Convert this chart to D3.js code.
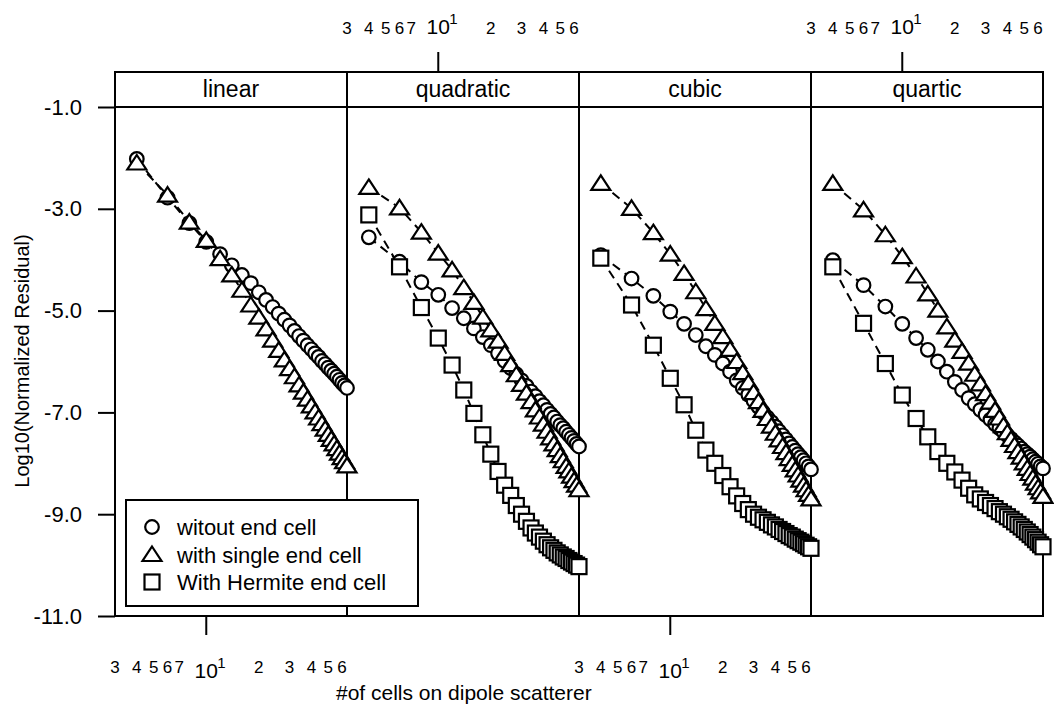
<!DOCTYPE html>
<html>
<head>
<meta charset="utf-8">
<script src="https://cdn.jsdelivr.net/npm/d3@7/dist/d3.min.js"></script>
<style>
  html, body { margin: 0; padding: 0; background: #fff; }
  svg { display: block; }
  text { font-family: "Liberation Sans", Arial, sans-serif; fill: #000; }
</style>
</head>
<body>
<svg id="chart" width="1054" height="710"></svg>
<script>
// ---------------- data ----------------
const panels = ["linear", "quadratic", "cubic", "quartic"];
const cells = [4,6,8,10,12,14,16,18,20,22,24,26,28,30,32,34,36,38,40,42,44,46,48,50,52,54,56,58,60,62,64];

const linearCircle   = [-2.02,-2.78,-3.28,-3.65,-3.89,-4.11,-4.30,-4.46,-4.64,-4.79,-4.93,-5.06,-5.18,-5.29,-5.40,-5.50,-5.59,-5.68,-5.76,-5.84,-5.91,-5.99,-6.05,-6.12,-6.18,-6.24,-6.30,-6.36,-6.42,-6.47,-6.52];
const linearTriangle = [-2.10,-2.73,-3.26,-3.62,-3.98,-4.30,-4.60,-4.89,-5.13,-5.36,-5.58,-5.78,-5.97,-6.14,-6.30,-6.46,-6.60,-6.74,-6.87,-6.99,-7.11,-7.22,-7.33,-7.43,-7.53,-7.62,-7.71,-7.80,-7.89,-7.97,-8.05];

const quadCircle   = [-3.56,-4.04,-4.44,-4.69,-4.95,-5.15,-5.35,-5.52,-5.68,-5.84,-5.99,-6.13,-6.25,-6.37,-6.48,-6.59,-6.68,-6.78,-6.86,-6.95,-7.03,-7.10,-7.18,-7.25,-7.31,-7.38,-7.44,-7.50,-7.56,-7.62,-7.67];
const quadTriangle = [-2.58,-2.98,-3.46,-3.87,-4.20,-4.55,-4.84,-5.13,-5.38,-5.60,-5.84,-6.06,-6.26,-6.45,-6.62,-6.79,-6.95,-7.09,-7.23,-7.37,-7.50,-7.62,-7.73,-7.85,-7.95,-8.06,-8.15,-8.25,-8.34,-8.43,-8.52];
const quadSquare   = [-3.12,-4.14,-4.94,-5.54,-6.07,-6.56,-7.02,-7.44,-7.82,-8.16,-8.43,-8.63,-8.83,-9.00,-9.14,-9.27,-9.37,-9.45,-9.53,-9.60,-9.66,-9.71,-9.76,-9.80,-9.84,-9.87,-9.91,-9.94,-9.97,-10.00,-10.03];

const cubicCircle   = [-3.91,-4.37,-4.71,-5.02,-5.26,-5.48,-5.70,-5.87,-6.04,-6.20,-6.37,-6.52,-6.65,-6.77,-6.89,-7.00,-7.10,-7.19,-7.28,-7.37,-7.45,-7.53,-7.61,-7.68,-7.75,-7.82,-7.88,-7.94,-8.00,-8.06,-8.12];
const cubicTriangle = [-2.50,-2.99,-3.47,-3.89,-4.27,-4.63,-4.96,-5.25,-5.51,-5.76,-6.00,-6.22,-6.42,-6.61,-6.79,-6.96,-7.12,-7.27,-7.41,-7.54,-7.67,-7.79,-7.91,-8.02,-8.13,-8.23,-8.33,-8.43,-8.52,-8.61,-8.70];
const cubicSquare   = [-3.97,-4.89,-5.68,-6.33,-6.85,-7.35,-7.74,-8.00,-8.24,-8.46,-8.64,-8.79,-8.91,-9.00,-9.06,-9.11,-9.16,-9.21,-9.25,-9.30,-9.34,-9.38,-9.42,-9.45,-9.49,-9.52,-9.55,-9.58,-9.61,-9.64,-9.67];

const quarticCircle   = [-4.01,-4.50,-4.92,-5.26,-5.54,-5.77,-6.00,-6.20,-6.40,-6.56,-6.72,-6.84,-6.95,-7.05,-7.14,-7.23,-7.31,-7.38,-7.45,-7.52,-7.59,-7.65,-7.71,-7.77,-7.82,-7.87,-7.92,-7.97,-8.01,-8.06,-8.10];
const quarticTriangle = [-2.50,-3.02,-3.51,-3.94,-4.32,-4.67,-4.99,-5.32,-5.58,-5.80,-6.03,-6.25,-6.44,-6.63,-6.80,-6.96,-7.11,-7.26,-7.40,-7.53,-7.65,-7.77,-7.88,-7.99,-8.10,-8.20,-8.29,-8.39,-8.48,-8.56,-8.65];
const quarticSquare   = [-4.14,-5.25,-6.04,-6.66,-7.12,-7.48,-7.77,-8.00,-8.17,-8.33,-8.49,-8.62,-8.70,-8.77,-8.83,-8.89,-8.95,-9.00,-9.05,-9.10,-9.15,-9.20,-9.25,-9.30,-9.35,-9.40,-9.45,-9.50,-9.55,-9.60,-9.64];

const seriesNames = ["witout end cell", "with single end cell", "With Hermite end cell"];
const yTickValues = [-1, -3, -5, -7, -9, -11];
const xTickValues = [3, 4, 5, 6, 7, 10, 20, 30, 40, 50, 60];
const xTickLabels = ["3", "4", "5", "6", "7", "10", "2", "3", "4", "5", "6"];
const xTitle = "#of cells on dipole scatterer";
const yTitle = "Log10(Normalized Residual)";

// series per panel: [circle, triangle, square]
const panelData = [
  [linearCircle, linearTriangle, null],
  [quadCircle, quadTriangle, quadSquare],
  [cubicCircle, cubicTriangle, cubicSquare],
  [quarticCircle, quarticTriangle, quarticSquare]
];

// ---------------- layout ----------------
const svg = d3.select("#chart");
const plotL = 115, plotR = 1043, stripT = 72, plotT = 107, plotB = 616;
const panelBand = d3.scaleBand().domain(panels).range([plotL, plotR]).padding(0);
const y = d3.scaleLinear().domain([-1, -11]).range([plotT, plotB]);
const xFor = p => d3.scaleLog().domain([3, 64]).range([panelBand(p), panelBand(p) + panelBand.bandwidth()]);

svg.append("rect").attr("width", 1054).attr("height", 710).attr("fill", "#fff");

// y axis
const yAxis = svg.append("g").attr("transform", `translate(${plotL},0)`)
  .call(d3.axisLeft(y).tickValues(yTickValues).tickSize(17).tickPadding(16).tickFormat(d => d.toFixed(1)));
yAxis.select(".domain").remove();
yAxis.selectAll(".tick line").attr("stroke", "#000").attr("stroke-width", 2);
yAxis.selectAll(".tick text").attr("font-size", 22).attr("font-family", "Liberation Sans, Arial, sans-serif").attr("fill", "#000");

// frames
const frame = svg.append("g").attr("fill", "none").attr("stroke", "#000").attr("stroke-width", 2);
frame.append("rect").attr("x", plotL).attr("y", stripT).attr("width", plotR - plotL).attr("height", plotB - stripT);
frame.append("line").attr("x1", plotL).attr("x2", plotR).attr("y1", plotT).attr("y2", plotT);
panels.slice(1).forEach(p => {
  frame.append("line").attr("x1", panelBand(p)).attr("x2", panelBand(p)).attr("y1", stripT).attr("y2", plotB);
});

// strip labels
panels.forEach(p => {
  svg.append("text").attr("x", panelBand(p) + panelBand.bandwidth() / 2).attr("y", 97)
    .attr("text-anchor", "middle").attr("font-size", 23).text(p);
});

// x tick labels and major tick (alternating bottom/top)
panels.forEach((p, i) => {
  const x = xFor(p);
  const bottom = (i % 2 === 0);
  const g = svg.append("g");
  const tick10 = x(10);
  if (bottom) {
    g.append("line").attr("x1", tick10).attr("x2", tick10).attr("y1", plotB).attr("y2", plotB + 19)
      .attr("stroke", "#000").attr("stroke-width", 2);
  } else {
    g.append("line").attr("x1", tick10).attr("x2", tick10).attr("y1", stripT).attr("y2", stripT - 20)
      .attr("stroke", "#000").attr("stroke-width", 2);
  }
  const base = bottom ? 673 : 34;
  xTickValues.forEach((v, k) => {
    const lab = xTickLabels[k];
    if (v === 10) {
      g.append("text").attr("x", x(v)).attr("y", base + (bottom ? 5 : 0)).attr("text-anchor", "middle")
        .attr("font-size", 21).text(lab);
      g.append("text").attr("x", x(v) + 11).attr("y", base + (bottom ? -5 : -10))
        .attr("font-size", 15).text("1");
    } else {
      g.append("text").attr("x", x(v)).attr("y", base).attr("text-anchor", "middle")
        .attr("font-size", 17).text(lab);
    }
  });
});

function drawMarker(g, type, cx, cy) {
  if (type === 0) {
    g.append("circle").attr("cx", cx).attr("cy", cy).attr("r", 6.8);
  } else if (type === 1) {
    g.append("path").attr("d", `M${cx},${cy - 8}L${cx + 9.5},${cy + 6.5}L${cx - 9.5},${cy + 6.5}Z`);
  } else {
    g.append("rect").attr("x", cx - 7.5).attr("y", cy - 7.5).attr("width", 15).attr("height", 15);
  }
}

// lines & markers
panels.forEach((p, i) => {
  const x = xFor(p);
  const series = panelData[i];
  const lineGen = d3.line().x((d, k) => x(cells[k])).y(d => y(d));
  series.forEach(vals => {
    if (!vals) return;
    svg.append("path").datum(vals).attr("d", lineGen)
      .attr("fill", "none").attr("stroke", "#000").attr("stroke-width", 2)
      .attr("stroke-dasharray", "9,6");
  });
  series.forEach((vals, s) => {
    if (!vals) return;
    const g = svg.append("g").attr("fill", "#fff").attr("stroke", "#000").attr("stroke-width", 2.2);
    vals.forEach((v, k) => drawMarker(g, s, x(cells[k]), y(v)));
  });
});

// legend
const lg = svg.append("g");
lg.append("rect").attr("x", 126).attr("y", 500).attr("width", 292).attr("height", 106)
  .attr("fill", "#fff").attr("stroke", "#000").attr("stroke-width", 2);
seriesNames.forEach((name, s) => {
  const cy = 527 + s * 27.5;
  const g = lg.append("g").attr("fill", "#fff").attr("stroke", "#000").attr("stroke-width", 2.2);
  drawMarker(g, s, 152, cy);
  lg.append("text").attr("x", 177).attr("y", cy + 8).attr("font-size", 22).text(name);
});

// axis titles
svg.append("text").attr("transform", "translate(29,361) rotate(-90)").attr("text-anchor", "middle")
  .attr("font-size", 20).text(yTitle);
svg.append("text").attr("x", 336).attr("y", 700).attr("font-size", 21).text(xTitle);
</script>
</body>
</html>
